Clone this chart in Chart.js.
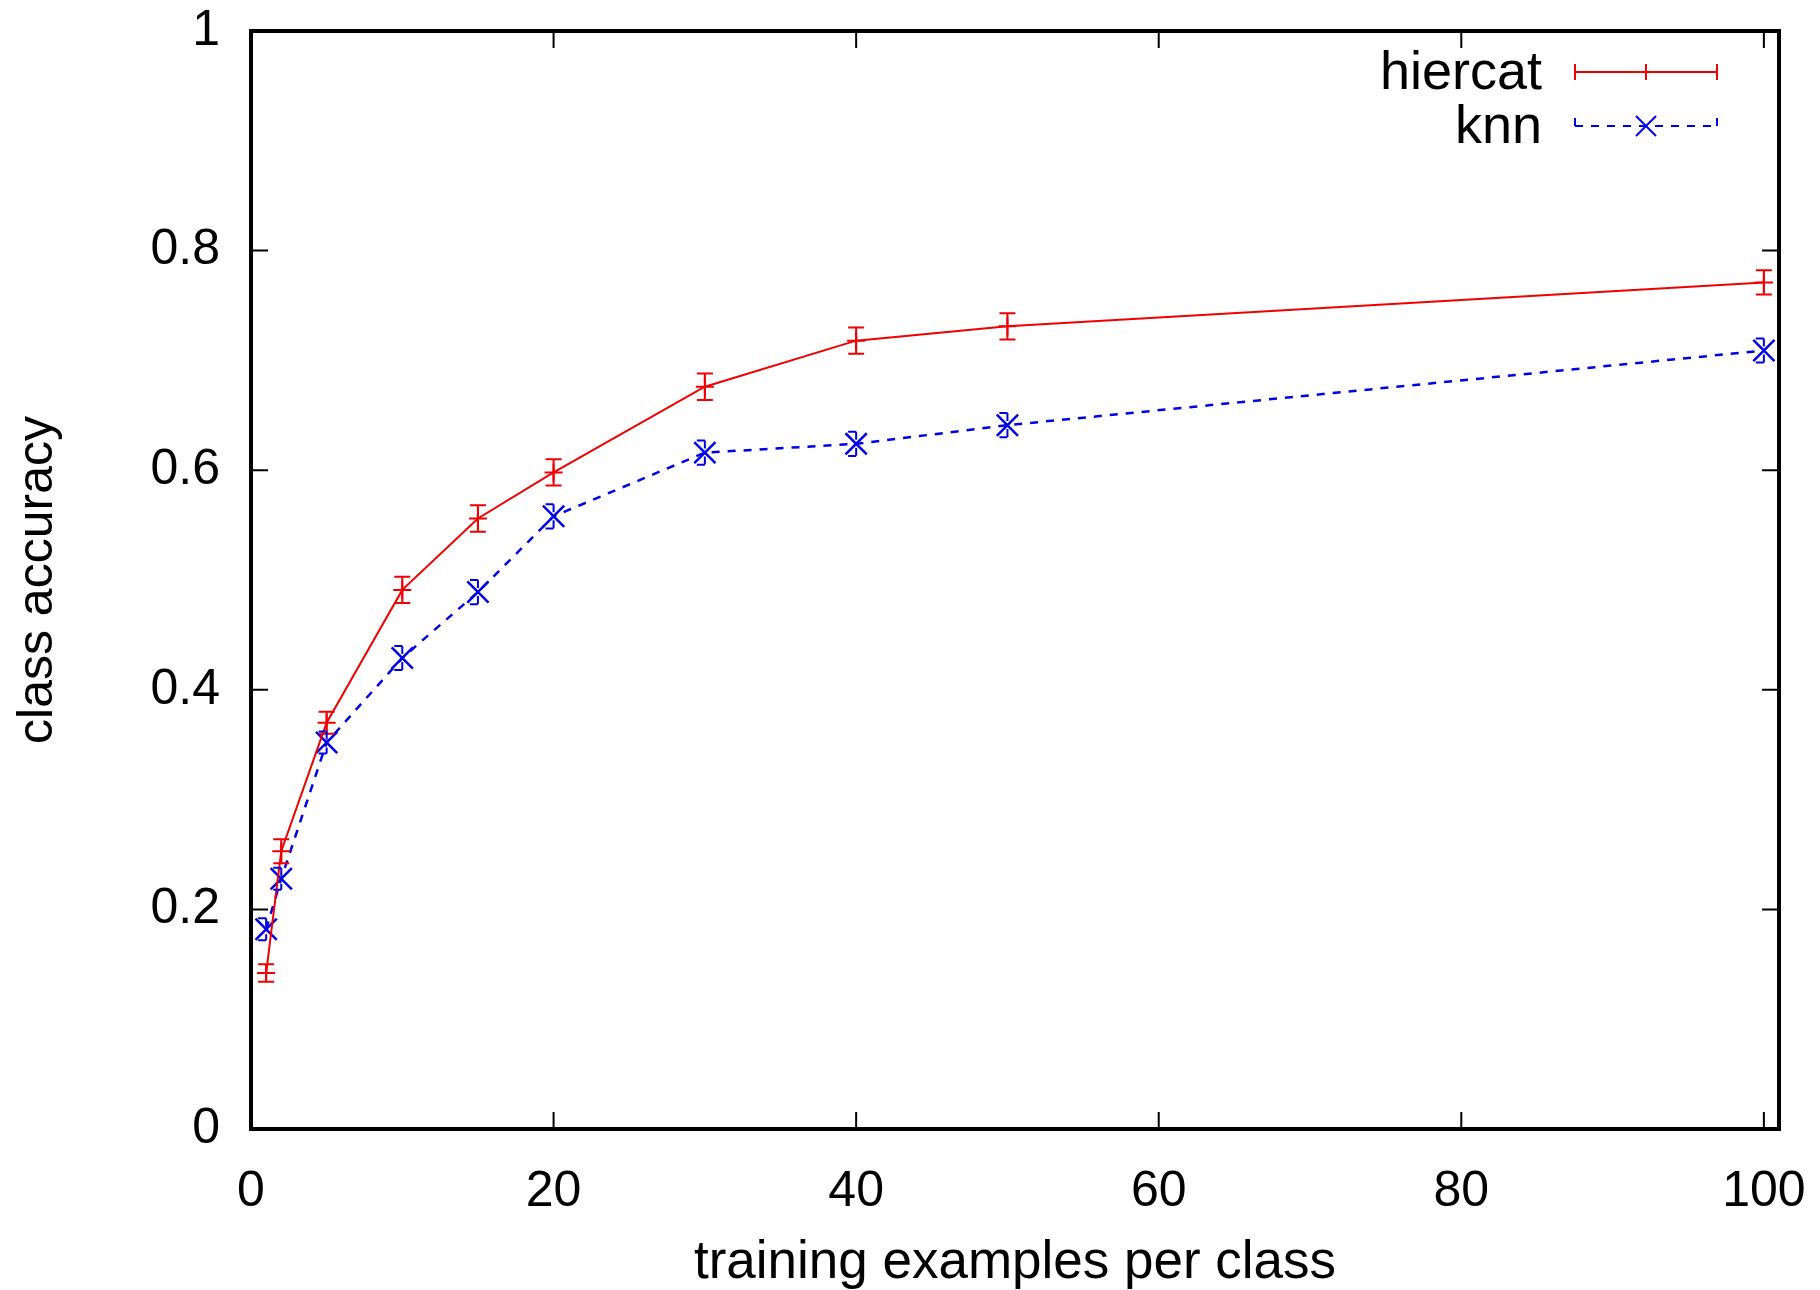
<!DOCTYPE html>
<html>
<head>
<meta charset="utf-8">
<script src="https://cdn.jsdelivr.net/npm/chart.js@4.4.1/dist/chart.umd.min.js"></script>
<style>
  html, body { margin: 0; padding: 0; background: #fff; }
  #wrap { width: 1820px; height: 1290px; }
</style>
</head>
<body>
<div id="wrap"><canvas id="chart" width="1820" height="1290"></canvas></div>
<script>
// training examples per class
const xValues = [1, 2, 5, 10, 15, 20, 30, 40, 50, 100];
// class accuracy
const hiercatAcc = [0.142, 0.253, 0.370, 0.491, 0.556, 0.598, 0.676, 0.718, 0.731, 0.771];
const hiercatErr = [0.008, 0.011, 0.010, 0.012, 0.012, 0.012, 0.012, 0.012, 0.012, 0.011];
const knnAcc = [0.182, 0.228, 0.352, 0.429, 0.489, 0.558, 0.616, 0.624, 0.641, 0.709];
const knnErr = [0.010, 0.010, 0.010, 0.011, 0.011, 0.011, 0.011, 0.011, 0.011, 0.011];
const xTicks = [0, 20, 40, 60, 80, 100];
const yTicks = [0, 0.2, 0.4, 0.6, 0.8, 1];

const FONT = "'Liberation Sans', Arial, Helvetica, sans-serif";
const RED = '#f00000';
const BLUE = '#0000e8';

const toPoints = (ys) => xValues.map((x, i) => ({ x: x, y: ys[i] }));

// error bars with caps, drawn from the dataset values through the scales
const errorBars = {
    id: 'errorBars',
    afterDatasetsDraw(chart) {
        const ctx = chart.ctx;
        const xs = chart.scales.x, ys = chart.scales.y;
        chart.data.datasets.forEach((ds) => {
            ctx.save();
            ctx.strokeStyle = ds.borderColor;
            ctx.lineWidth = 2;
            ctx.setLineDash(ds.borderDash || []);
            ds.data.forEach((p, i) => {
                const e = ds.errors[i];
                const px = xs.getPixelForValue(p.x);
                const top = ys.getPixelForValue(p.y + e);
                const bot = ys.getPixelForValue(p.y - e);
                ctx.beginPath();
                ctx.moveTo(px, top); ctx.lineTo(px, bot);
                ctx.moveTo(px - 8, top); ctx.lineTo(px + 8, top);
                ctx.moveTo(px - 8, bot); ctx.lineTo(px + 8, bot);
                ctx.stroke();
            });
            ctx.restore();
        });
    }
};

// gnuplot style frame with inward ticks on all four sides, plus key
const frame = {
    id: 'frame',
    afterDraw(chart) {
        const ctx = chart.ctx;
        const a = chart.chartArea;
        const xs = chart.scales.x, ys = chart.scales.y;
        ctx.save();
        ctx.strokeStyle = '#000';
        ctx.lineWidth = 2;
        ctx.beginPath();
        xTicks.forEach(v => {
            const px = xs.getPixelForValue(v);
            ctx.moveTo(px, a.bottom); ctx.lineTo(px, a.bottom - 17);
            ctx.moveTo(px, a.top); ctx.lineTo(px, a.top + 17);
        });
        yTicks.forEach(v => {
            const py = ys.getPixelForValue(v);
            ctx.moveTo(a.left, py); ctx.lineTo(a.left + 17, py);
            ctx.moveTo(a.right, py); ctx.lineTo(a.right - 17, py);
        });
        ctx.stroke();
        ctx.lineWidth = 4;
        ctx.strokeRect(a.left, a.top, a.right - a.left, a.bottom - a.top);

        // key
        const textRight = a.right - 237;
        const lineL = a.right - 204, lineR = a.right - 62;
        const midX = (lineL + lineR) / 2;
        ctx.font = '54px ' + FONT;
        ctx.textAlign = 'right';
        ctx.textBaseline = 'middle';
        chart.data.datasets.forEach((ds, i) => {
            const y = a.top + 41 + i * 54;
            ctx.fillStyle = '#000';
            ctx.fillText(ds.label, textRight, y + 2);
            ctx.strokeStyle = ds.borderColor;
            ctx.lineWidth = 2;
            ctx.setLineDash(ds.borderDash || []);
            ctx.beginPath();
            ctx.moveTo(lineL, y); ctx.lineTo(lineR, y);
            ctx.moveTo(lineL, y - 8); ctx.lineTo(lineL, y + 8);
            ctx.moveTo(lineR, y - 8); ctx.lineTo(lineR, y + 8);
            ctx.stroke();
            ctx.setLineDash([]);
            ctx.beginPath();
            if (ds.pointStyle === 'cross') {
                ctx.moveTo(midX - 8, y); ctx.lineTo(midX + 8, y);
                ctx.moveTo(midX, y - 8); ctx.lineTo(midX, y + 8);
            } else {
                ctx.moveTo(midX - 10, y - 10); ctx.lineTo(midX + 10, y + 10);
                ctx.moveTo(midX - 10, y + 10); ctx.lineTo(midX + 10, y - 10);
            }
            ctx.stroke();
        });
        ctx.restore();
    }
};

new Chart(document.getElementById('chart'), {
    type: 'line',
    data: {
        datasets: [{
            label: 'hiercat',
            data: toPoints(hiercatAcc),
            errors: hiercatErr,
            borderColor: RED,
            backgroundColor: RED,
            borderWidth: 2,
            pointStyle: 'cross',
            pointRadius: 9,
            pointBorderWidth: 2,
            tension: 0,
            fill: false
        }, {
            label: 'knn',
            data: toPoints(knnAcc),
            errors: knnErr,
            borderColor: BLUE,
            backgroundColor: BLUE,
            borderWidth: 2.5,
            borderDash: [8, 8],
            pointStyle: 'crossRot',
            pointRadius: 15,
            pointBorderWidth: 2.5,
            tension: 0,
            fill: false
        }]
    },
    options: {
        responsive: false,
        animation: false,
        devicePixelRatio: 1,
        layout: { padding: { top: 31, right: 41, left: 0, bottom: 0 } },
        plugins: {
            legend: { display: false },
            tooltip: { enabled: false }
        },
        scales: {
            x: {
                type: 'linear',
                min: 0,
                max: 101,
                afterBuildTicks: (s) => { s.ticks = xTicks.map(v => ({ value: v })); },
                afterFit: (s) => { s.height = 161; s.paddingLeft = 0; s.paddingRight = 0; },
                grid: { display: false, drawTicks: false },
                border: { display: false },
                ticks: { color: '#000', font: { family: FONT, size: 50 }, padding: 33, maxRotation: 0, autoSkip: false },
                title: { display: true, text: 'training examples per class', color: '#000',
                         font: { family: FONT, size: 53, lineHeight: 1.0 }, padding: { top: 0, bottom: 0 } }
            },
            y: {
                type: 'linear',
                min: 0,
                max: 1,
                afterBuildTicks: (s) => { s.ticks = yTicks.map(v => ({ value: v })); },
                afterFit: (s) => { s.width = 251; s.paddingTop = 0; s.paddingBottom = 0; },
                grid: { display: false, drawTicks: false },
                border: { display: false },
                ticks: { color: '#000', font: { family: FONT, size: 50 }, padding: 31,
                         callback: (v) => String(v) },
                title: { display: true, text: 'class accuracy', color: '#000',
                         font: { family: FONT, size: 50 }, padding: { top: 8, bottom: 0 } }
            }
        }
    },
    plugins: [errorBars, frame]
});
</script>
</body>
</html>
